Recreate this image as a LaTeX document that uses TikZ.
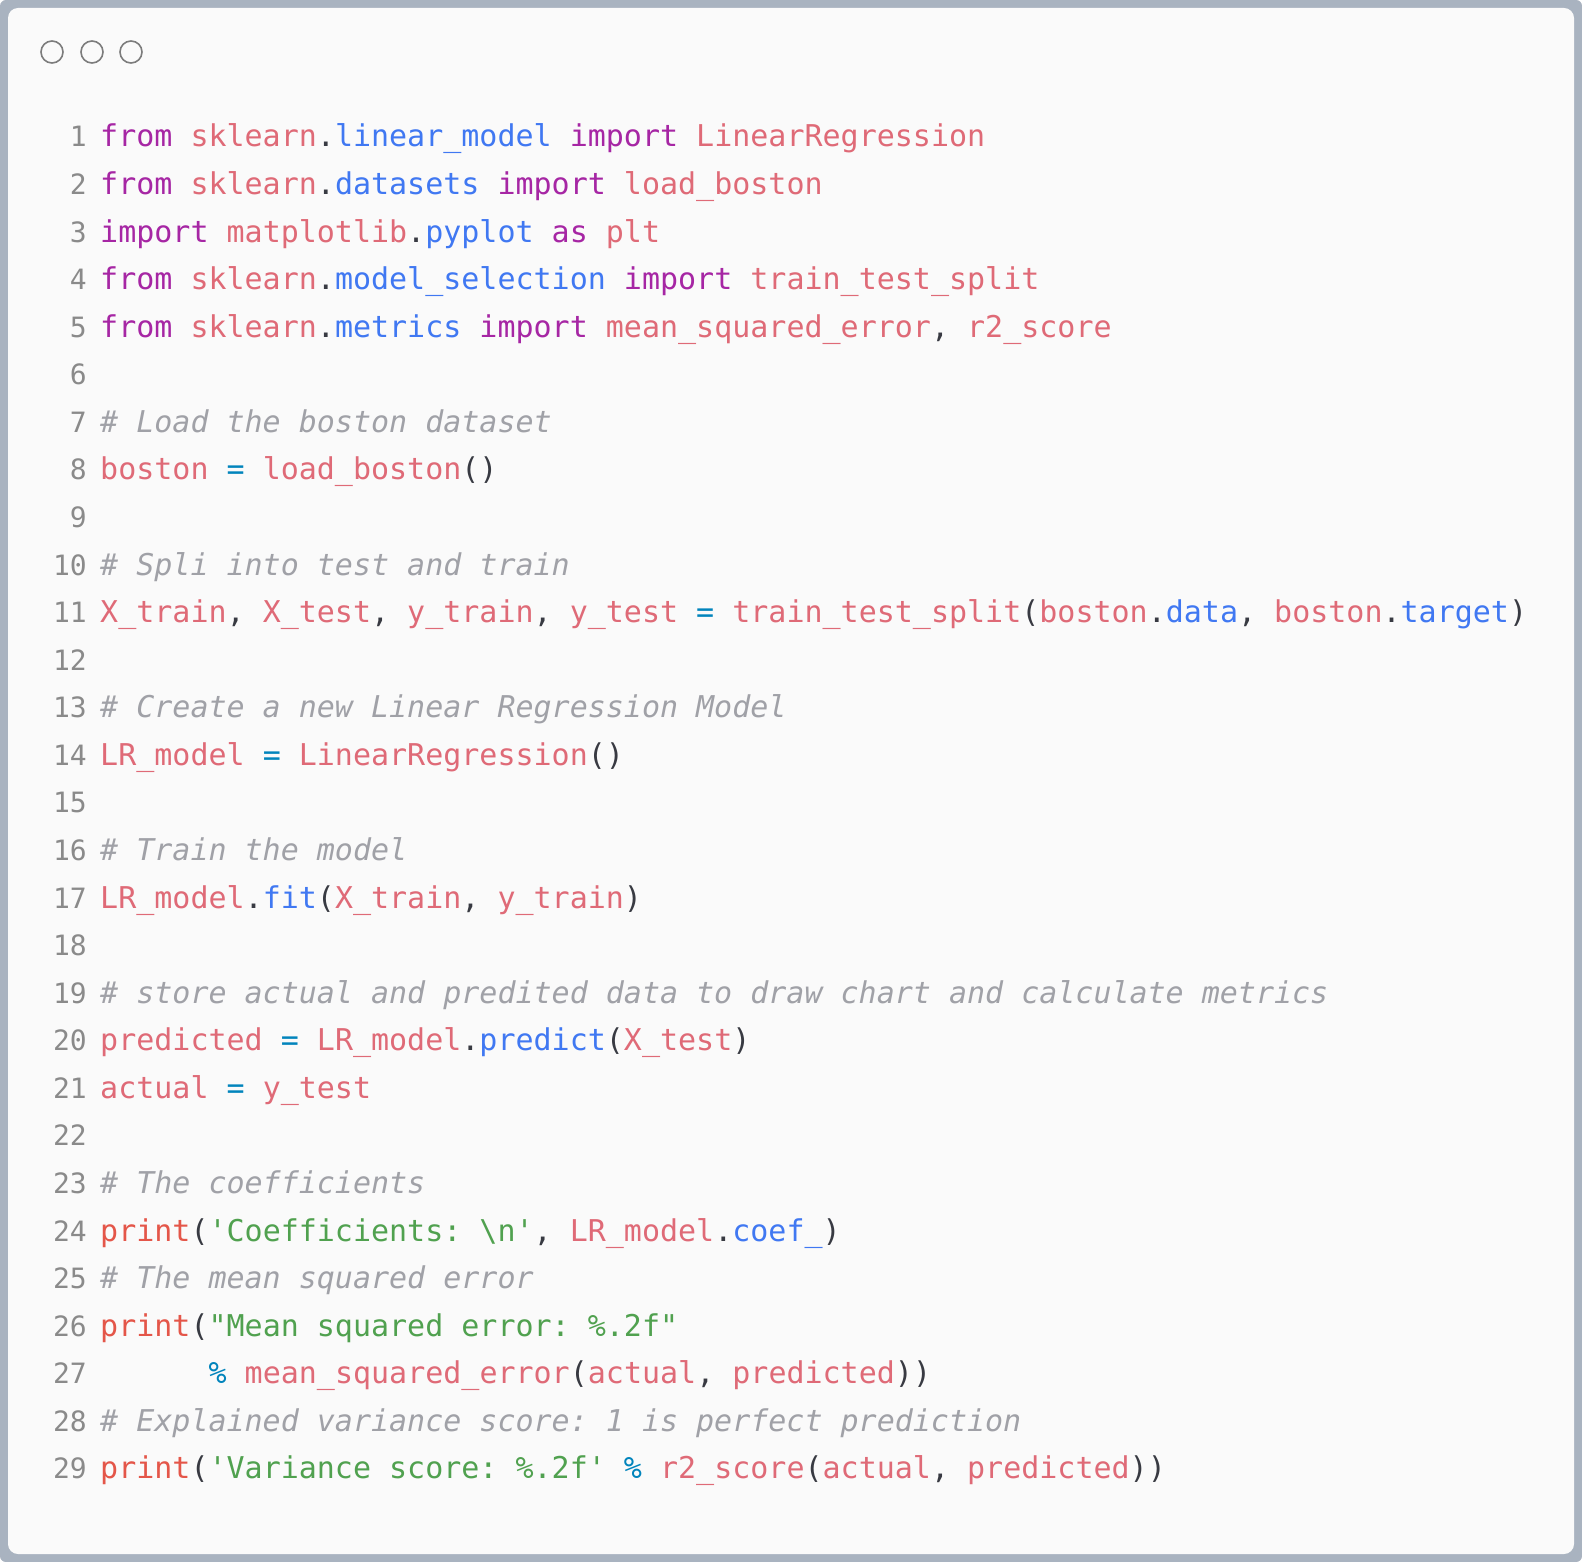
\documentclass[tikz,border=0pt]{standalone}
\usepackage{fontspec}
\setmonofont{DejaVu Sans Mono}
\definecolor{frame}{HTML}{A9B3C0}
\definecolor{bg}{HTML}{FAFAFA}
\definecolor{kw}{HTML}{A626A4}
\definecolor{idc}{HTML}{DF6A77}
\definecolor{blu}{HTML}{4078F2}
\definecolor{opc}{HTML}{0184BC}
\definecolor{strc}{HTML}{50A14F}
\definecolor{prc}{HTML}{E45649}
\definecolor{cmt}{HTML}{A0A1A7}
\definecolor{lnc}{HTML}{8A8A8A}
\definecolor{txt}{HTML}{383A42}
\newcommand\ck[1]{\textcolor{kw}{#1}}
\newcommand\ci[1]{\textcolor{idc}{#1}}
\newcommand\cb[1]{\textcolor{blu}{#1}}
\newcommand\co[1]{\textcolor{opc}{#1}}
\newcommand\cs[1]{\textcolor{strc}{#1}}
\newcommand\cp[1]{\textcolor{prc}{#1}}
\newcommand\cc[1]{\textcolor{cmt}{\itshape #1}}
\begin{document}
\begin{tikzpicture}[x=1pt,y=1pt,
  codeline/.style={anchor=base west,inner sep=0pt,font=\ttfamily\fontsize{30}{30}\selectfont,text=txt},
  lnum/.style={anchor=base east,inner sep=0pt,font=\ttfamily\fontsize{28}{28}\selectfont,text=lnc},
  dot/.style={draw=lnc!90!black,line width=1.6pt,fill=none}]
\useasboundingbox (0,0) rectangle (1582,-1562);
\fill[frame,rounded corners=6pt] (0,0) rectangle (1582,-1562);
\fill[bg,rounded corners=10pt] (8,-8) rectangle (1574,-1554);
\draw[dot] (52,-52) circle (11);
\draw[dot] (92,-52) circle (11);
\draw[dot] (131,-52) circle (11);
\foreach \n in {1,...,29}{
  \node[lnum] (ln\n) at (87,{-147-(\n-1)*47.57}) {\n};
}
\def\Y#1{{-147-(#1-1)*47.57}}
\node[codeline] (c1) at (100,\Y{1}) {\ck{from} \ci{sklearn}.\cb{linear\_model} \ck{import} \ci{LinearRegression}};
\node[codeline] (c2) at (100,\Y{2}) {\ck{from} \ci{sklearn}.\cb{datasets} \ck{import} \ci{load\_boston}};
\node[codeline] (c3) at (100,\Y{3}) {\ck{import} \ci{matplotlib}.\cb{pyplot} \ck{as} \ci{plt}};
\node[codeline] (c4) at (100,\Y{4}) {\ck{from} \ci{sklearn}.\cb{model\_selection} \ck{import} \ci{train\_test\_split}};
\node[codeline] (c5) at (100,\Y{5}) {\ck{from} \ci{sklearn}.\cb{metrics} \ck{import} \ci{mean\_squared\_error}, \ci{r2\_score}};
\node[codeline] (c7) at (100,\Y{7}) {\cc{\# Load the boston dataset}};
\node[codeline] (c8) at (100,\Y{8}) {\ci{boston} \co{=} \ci{load\_boston}()};
\node[codeline] (c10) at (100,\Y{10}) {\cc{\# Spli into test and train}};
\node[codeline] (c11) at (100,\Y{11}) {\ci{X\_train}, \ci{X\_test}, \ci{y\_train}, \ci{y\_test} \co{=} \ci{train\_test\_split}(\ci{boston}.\cb{data}, \ci{boston}.\cb{target})};
\node[codeline] (c13) at (100,\Y{13}) {\cc{\# Create a new Linear Regression Model}};
\node[codeline] (c14) at (100,\Y{14}) {\ci{LR\_model} \co{=} \ci{LinearRegression}()};
\node[codeline] (c16) at (100,\Y{16}) {\cc{\# Train the model}};
\node[codeline] (c17) at (100,\Y{17}) {\ci{LR\_model}.\cb{fit}(\ci{X\_train}, \ci{y\_train})};
\node[codeline] (c19) at (100,\Y{19}) {\cc{\# store actual and predited data to draw chart and calculate metrics}};
\node[codeline] (c20) at (100,\Y{20}) {\ci{predicted} \co{=} \ci{LR\_model}.\cb{predict}(\ci{X\_test})};
\node[codeline] (c21) at (100,\Y{21}) {\ci{actual} \co{=} \ci{y\_test}};
\node[codeline] (c23) at (100,\Y{23}) {\cc{\# The coefficients}};
\node[codeline] (c24) at (100,\Y{24}) {\cp{print}(\cs{'Coefficients: \textbackslash n'}, \ci{LR\_model}.\cb{coef\_})};
\node[codeline] (c25) at (100,\Y{25}) {\cc{\# The mean squared error}};
\node[codeline] (c26) at (100,\Y{26}) {\cp{print}(\cs{"Mean squared error: \%.2f"}};
\node[codeline] (c27) at (208.4,\Y{27}) {\co{\%} \ci{mean\_squared\_error}(\ci{actual}, \ci{predicted}))};
\node[codeline] (c28) at (100,\Y{28}) {\cc{\# Explained variance score: 1 is perfect prediction}};
\node[codeline] (c29) at (100,\Y{29}) {\cp{print}(\cs{'Variance score: \%.2f'} \co{\%} \ci{r2\_score}(\ci{actual}, \ci{predicted}))};
\end{tikzpicture}
\end{document}
